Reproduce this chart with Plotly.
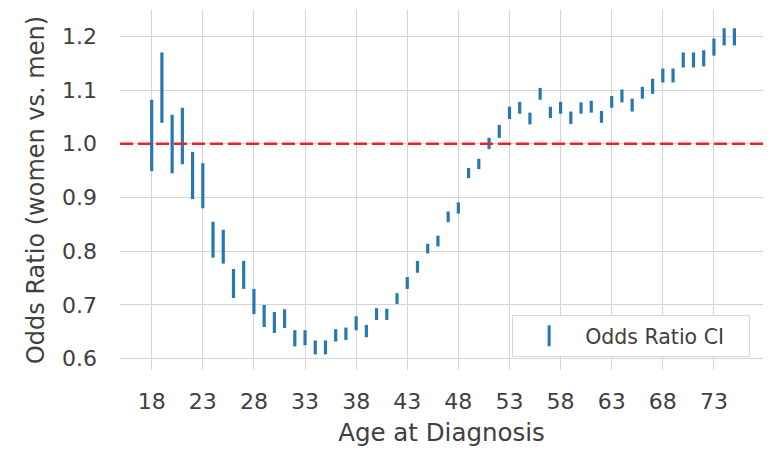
import plotly.graph_objects as go

ages = list(range(18, 76))
ci_low = [0.949, 1.039, 0.945, 0.962, 0.897, 0.880, 0.788, 0.777, 0.713, 0.730,
          0.683, 0.659, 0.648, 0.657, 0.623, 0.625, 0.608, 0.608, 0.632, 0.635,
          0.653, 0.640, 0.672, 0.672, 0.702, 0.730, 0.760, 0.796, 0.809, 0.854,
          0.870, 0.936, 0.953, 0.990, 1.011, 1.046, 1.056, 1.036, 1.082, 1.048,
          1.056, 1.037, 1.056, 1.058, 1.039, 1.067, 1.077, 1.060, 1.084, 1.093,
          1.114, 1.114, 1.142, 1.142, 1.144, 1.164, 1.183, 1.183]
ci_high = [1.082, 1.170, 1.054, 1.067, 0.985, 0.964, 0.855, 0.840, 0.767, 0.782,
           0.730, 0.700, 0.687, 0.692, 0.653, 0.653, 0.634, 0.634, 0.655, 0.658,
           0.679, 0.663, 0.694, 0.693, 0.722, 0.752, 0.782, 0.814, 0.829, 0.874,
           0.891, 0.955, 0.972, 1.011, 1.035, 1.069, 1.078, 1.058, 1.104, 1.069,
           1.078, 1.060, 1.077, 1.080, 1.061, 1.089, 1.101, 1.084, 1.106, 1.121,
           1.140, 1.140, 1.170, 1.170, 1.174, 1.196, 1.215, 1.215]
x_ticks = [18, 23, 28, 33, 38, 43, 48, 53, 58, 63, 68, 73]
y_ticks = [0.6, 0.7, 0.8, 0.9, 1.0, 1.1, 1.2]
reference_or = 1.0

seg_x, seg_y = [], []
for a, lo, hi in zip(ages, ci_low, ci_high):
    seg_x += [a, a, None]
    seg_y += [lo, hi, None]

blue = "#2778b0"
fig = go.Figure()
fig.add_trace(go.Scatter(x=seg_x, y=seg_y, mode="lines",
                         line=dict(color=blue, width=3.2),
                         showlegend=False, hoverinfo="skip"))
fig.add_trace(go.Scatter(x=[None], y=[None], mode="markers",
                         marker=dict(symbol="line-ns-open", size=15, color=blue,
                                     line=dict(color=blue, width=3)),
                         name="Odds Ratio CI\u00a0\u00a0\u00a0"))
fig.add_hline(y=reference_or, line=dict(color="#e8232a", width=2.6, dash="13px,5px"))

font_col = "#404040"
fig.update_layout(
    width=775, height=454,
    margin=dict(l=120, r=12, t=10, b=84),
    paper_bgcolor="white", plot_bgcolor="white",
    font=dict(family="DejaVu Sans", size=22, color=font_col),
    showlegend=True,
    legend=dict(x=0.98, y=0.036, xanchor="right", yanchor="bottom",
                bgcolor="white", bordercolor="#d8d8d8", borderwidth=1,
                font=dict(size=20.5, color=font_col), itemwidth=62),
    xaxis=dict(range=[14.9, 77.8], tickvals=x_ticks, showgrid=True,
               gridcolor="#d5d5d5", gridwidth=1.2, zeroline=False,
               showline=False, ticks="", ticklabelstandoff=16,
               title=dict(text="Age at Diagnosis", font=dict(size=24.5), standoff=10)),
    yaxis=dict(range=[0.579, 1.249], tickvals=y_ticks, tickformat=".1f",
               showgrid=True, gridcolor="#d5d5d5", gridwidth=1.2,
               zeroline=False, showline=False, ticks="", ticklabelstandoff=22,
               title=dict(text="Odds Ratio (women vs. men)", font=dict(size=24),
                          standoff=10)),
)
fig.write_html("out.html")
